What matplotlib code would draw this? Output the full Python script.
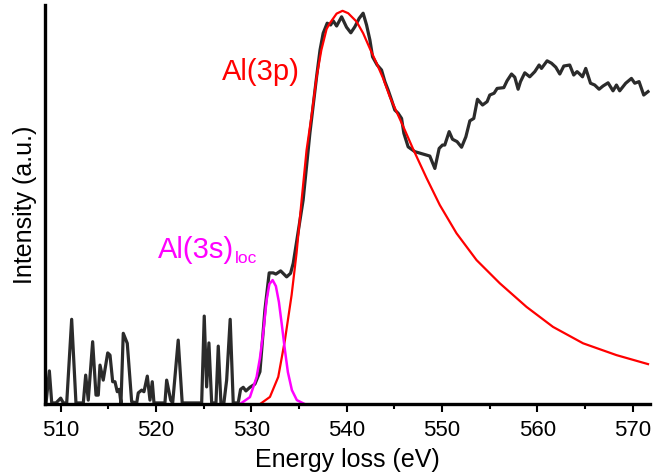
import matplotlib
matplotlib.use('Agg')
import matplotlib.pyplot as plt
from matplotlib.ticker import MultipleLocator

plt.rcParams['font.family'] = ['Liberation Sans', 'DejaVu Sans']

# measured spectrum (energy loss in eV, intensity in a.u.)
spec_e = [508.47, 508.82, 509.07, 509.52, 510.01, 510.28, 510.64, 511.16, 511.61, 512.38,
          512.63, 512.90, 513.36, 513.71, 513.95, 514.13, 514.47, 514.94, 515.18, 515.46,
          515.70, 515.94, 516.15, 516.33, 516.57, 516.99, 517.45, 517.98, 518.14, 518.50,
          518.74, 519.09, 519.37, 519.61, 519.79, 520.94, 521.12, 521.54, 521.75, 522.33,
          522.75, 524.79, 525.06, 525.31, 525.55, 525.84, 526.29, 526.53, 526.81, 527.12,
          527.41, 527.78, 528.10, 528.62, 528.87, 529.15, 529.43, 529.85, 530.37, 530.90,
          531.42, 531.87, 532.29, 532.57, 533.07, 533.70, 534.11, 534.39, 535.43, 536.14,
          536.84, 537.20, 537.53, 537.95, 538.31, 538.58, 538.94, 539.46, 539.98, 540.43,
          540.85, 541.30, 541.72, 542.08, 542.43, 542.71, 543.19, 543.65, 544.00, 544.34,
          544.70, 545.04, 545.39, 545.75, 545.99, 546.44, 547.14, 548.71, 549.24, 549.69,
          550.04, 550.28, 550.74, 551.09, 551.57, 552.04, 552.49, 552.91, 553.32, 553.71,
          554.24, 554.72, 555.00, 555.45, 555.77, 556.47, 556.81, 557.28, 557.62, 557.97,
          558.22, 558.67, 559.19, 559.72, 560.17, 560.42, 561.01, 561.47, 561.92, 562.34,
          562.76, 563.38, 563.80, 564.15, 564.43, 564.72, 565.06, 565.56, 566.00, 566.46,
          566.87, 567.40, 567.92, 568.28, 568.62, 569.25, 569.85, 570.20, 570.65, 571.14,
          571.59]
spec_i = [0.25, 8.3, 0.3, 0.3, 1.5, 0.3, 0.3, 21.2, 0.3, 0.3,
          7.25, 1.0, 15.6, 2.25, 2.25, 9.75, 6.0, 12.8, 12.25, 5.6,
          5.6, 3.1, 3.7, 0.3, 17.7, 15.2, 0.6, 0.3, 2.8, 3.5,
          3.1, 7.0, 1.0, 5.6, 0.3, 0.3, 6.0, 1.0, 0.3, 16.0,
          0.3, 0.3, 22.0, 4.3, 15.3, 0.3, 0.3, 14.5, 0.3, 0.3,
          6.0, 21.2, 0.3, 0.3, 3.7, 4.2, 3.3, 4.2, 5.0, 8.1,
          23.5, 32.8, 32.8, 32.5, 33.3, 31.8, 32.7, 35.2, 51.0, 67.75,
          81.8, 88.5, 92.7, 95.2, 94.75, 95.8, 94.5, 96.8, 94.2, 92.8,
          94.3, 96.4, 97.7, 94.75, 91.0, 86.8, 84.75, 83.5, 80.6, 78.5,
          76.0, 73.5, 72.7, 71.4, 67.7, 64.3, 63.1, 62.0, 58.9, 63.9,
          64.75, 64.75, 68.1, 66.2, 65.6, 64.2, 66.8, 70.8, 71.4, 76.2,
          74.75, 75.6, 77.25, 77.7, 78.9, 79.1, 80.8, 82.5, 81.7, 78.7,
          80.6, 82.8, 81.8, 83.1, 84.75, 83.9, 85.8, 85.2, 84.2, 82.5,
          84.5, 84.75, 82.25, 83.1, 82.5, 81.8, 83.9, 80.2, 79.75, 78.7,
          79.5, 80.3, 78.3, 79.75, 78.3, 80.2, 81.4, 80.2, 80.6, 77.25,
          78.1]

# Al(3p) fitted component
p3_e = [530.90, 531.95, 532.82, 533.52, 534.22, 534.74, 535.27, 535.79, 536.32, 536.84,
        537.34, 537.89, 538.23, 538.94, 539.56, 540.15, 541.03, 541.72, 542.42, 543.13,
        543.82, 544.52, 545.22, 546.09, 546.96, 548.37, 549.76, 551.51, 553.61, 556.05,
        558.85, 561.63, 564.78, 568.28, 571.59]
p3_i = [0.0, 1.8, 6.8, 16.0, 27.25, 37.75, 51.0, 63.5, 72.25, 81.75,
        88.5, 93.75, 95.2, 97.6, 98.3, 97.7, 95.6, 92.7, 88.9, 85.2,
        81.4, 76.8, 73.1, 68.5, 63.75, 56.5, 49.75, 42.7, 36.0, 30.2,
        24.3, 19.3, 15.2, 12.25, 10.0]

# Al(3s)loc fitted component
s3_e = [528.80, 529.85, 530.55, 530.90, 531.24, 531.60, 531.89, 532.23, 532.57, 532.89,
        533.20, 533.52, 533.83, 534.25, 534.77, 535.61]
s3_i = [0.0, 1.75, 6.75, 11.5, 17.75, 26.0, 30.0, 31.0, 29.5, 25.5,
        19.75, 13.5, 8.0, 3.5, 1.0, 0.0]

fig = plt.figure(figsize=(6.53, 4.76), dpi=100)
ax = fig.add_axes([0.069, 0.151, 0.926, 0.8385])

ax.plot(spec_e, spec_i, color='#2b2b2b', lw=2.3, solid_joinstyle='round')
ax.plot(p3_e, p3_i, color='#ff0000', lw=1.6)
ax.plot(s3_e, s3_i, color='#ff00ff', lw=1.8)

ax.text(535.1, 81, 'Al(3p)', color='#ff0000', fontsize=21, ha='right', va='baseline')
t = ax.text(520.2, 36.5, 'Al(3s)', color='#ff00ff', fontsize=21, ha='left', va='baseline')
ax.annotate('loc', xy=(1, 0), xycoords=t, xytext=(0.5, -1.5), textcoords='offset points',
            color='#ff00ff', fontsize=12.5, ha='left', va='bottom')

ax.set_xlim(508.37, 571.77)
ax.set_ylim(0, 99.75)
ax.xaxis.set_major_locator(MultipleLocator(10))
ax.xaxis.set_minor_locator(MultipleLocator(5))
ax.set_yticks([])
ax.tick_params(axis='x', which='major', direction='out', length=6, width=1.5,
               labelsize=16, pad=5.5)
ax.tick_params(axis='x', which='minor', direction='out', length=3.5, width=1.5)

for s in ['top', 'right']:
    ax.spines[s].set_visible(False)
for s in ['left', 'bottom']:
    ax.spines[s].set_linewidth(2.4)

ax.set_xlabel('Energy loss (eV)', fontsize=18, labelpad=5)
ax.set_ylabel('Intensity (a.u.)', fontsize=18, labelpad=6)

fig.savefig('out.png', dpi=100)
